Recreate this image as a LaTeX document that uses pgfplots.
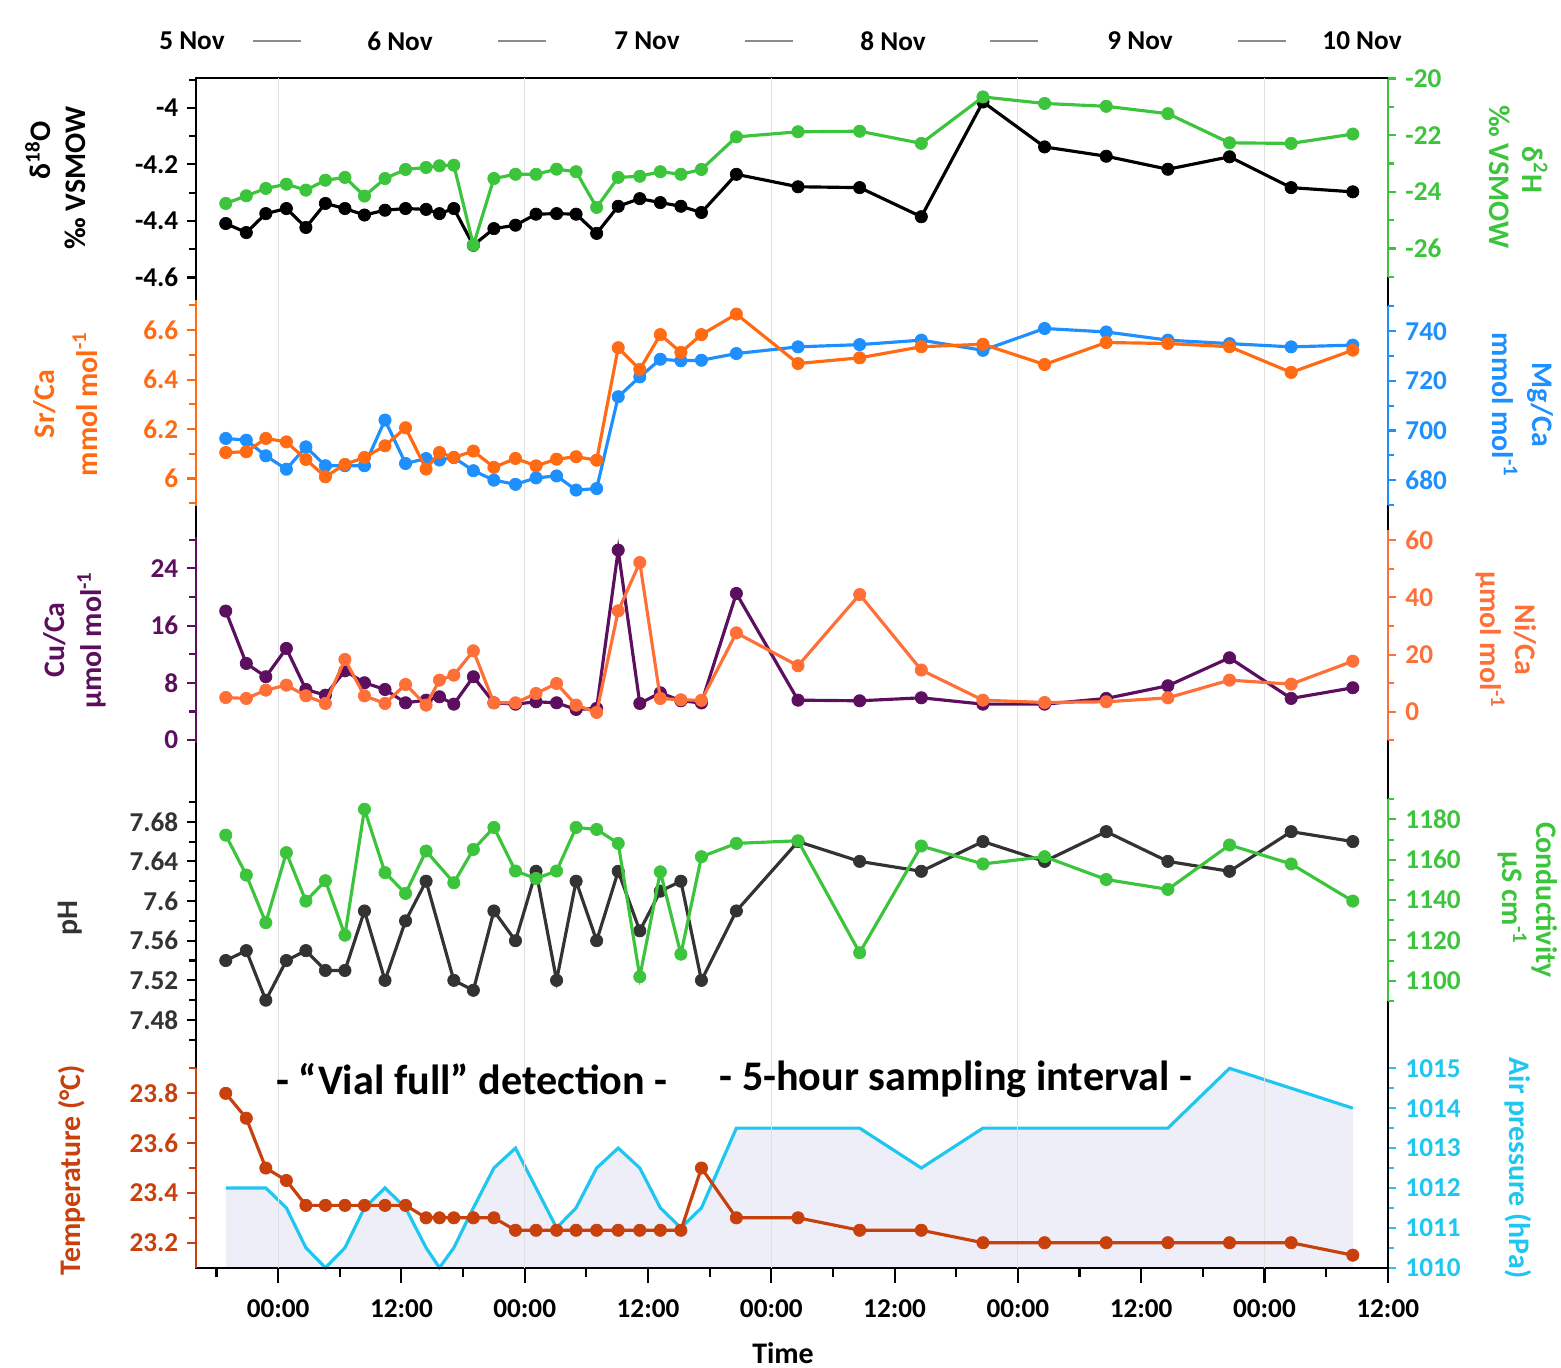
\documentclass[border=0pt]{standalone}
\usepackage{fontspec}
\setmainfont{Carlito}
\usepackage{pgfplots}
\usepackage{pgfplotstable}
\pgfplotsset{compat=1.18}
\usepgfplotslibrary{fillbetween}

\definecolor{dO}{HTML}{000000}
\definecolor{dH}{HTML}{3DC43D}
\definecolor{srca}{HTML}{FF6A13}
\definecolor{mgca}{HTML}{1E8FFF}
\definecolor{cuca}{HTML}{5C0F5E}
\definecolor{nica}{HTML}{FF7038}
\definecolor{phc}{HTML}{333333}
\definecolor{cond}{HTML}{3DC43D}
\definecolor{temp}{HTML}{C8400C}
\definecolor{pres}{HTML}{1EC6F0}
\definecolor{presfill}{HTML}{EEEEF8}

\newcommand\tickfont{\fontsize{15.5}{16}\selectfont\bfseries}
\newcommand\labfont{\fontsize{17}{18}\selectfont\bfseries}

% hours from the first 00:00 tick
\pgfplotstableread{
x     d18O    d2H     srca   mgca   cuca   nica   ph    cond    temp   pres
-5.1  -4.409  -24.41  6.105  696.8  18.04  5.00   7.54  1172.2  23.80  1012.0
-3.1  -4.441  -24.14  6.108  696.1  10.72  4.66   7.55  1152.4  23.70  1012.0
-1.2  -4.374  -23.88  6.162  689.8  8.86   7.57   7.50  1128.8  23.50  1012.0
0.8   -4.356  -23.73  6.148  684.4  12.82  9.32   7.54  1163.5  23.45  1011.5
2.7   -4.423  -23.94  6.077  693.4  7.08   5.59   7.55  1139.5  23.35  1010.5
4.6   -4.338  -23.59  6.007  685.8  6.29   2.91   7.53  1149.6  23.35  1010.0
6.5   -4.356  -23.49  6.057  685.8  9.69   18.29  7.53  1122.6  23.35  1010.5
8.4   -4.379  -24.15  6.085  685.8  8.02   5.59   7.59  1185.0  23.35  1011.5
10.4  -4.362  -23.53  6.132  704.2  7.08   2.91   7.52  1153.6  23.35  1012.0
12.4  -4.356  -23.21  6.205  686.7  5.22   9.55   7.58  1143.3  23.35  1011.5
14.4  -4.359  -23.14  6.038  688.7  5.59   2.33   7.62  1164.3  23.30  1010.5
15.7  -4.374  -23.08  6.105  688.1  6.06   11.07  nan   nan     23.30  1010.0
17.1  -4.356  -23.06  6.085  689.1  5.03   12.81  7.52  1148.6  23.30  1010.5
19.0  -4.486  -25.88  6.111  683.8  8.86   21.32  7.51  1165.1  23.30  1011.5
21.0  -4.427  -23.53  6.045  680.0  5.22   3.14   7.59  1176.0  23.30  1012.5
23.1  -4.415  -23.38  6.081  678.3  5.03   3.14   7.56  1154.4  23.25  1013.0
25.1  -4.376  -23.38  6.051  680.9  5.36   6.41   7.63  1150.7  23.25  1012.0
27.1  -4.374  -23.20  6.078  681.7  5.22   9.90   7.52  1154.4  23.25  1011.0
29.0  -4.376  -23.29  6.088  676.0  4.29   2.33   7.62  1176.0  23.25  1011.5
31.0  -4.444  -24.55  6.074  676.6  4.43   -0.2   7.56  1175.0  23.25  1012.5
33.1  -4.348  -23.49  6.529  713.6  26.56  35.3   7.63  1168.1  23.25  1013.0
35.2  -4.321  -23.45  6.441  721.6  5.13   52.2   7.57  1102.0  23.25  1012.5
37.2  -4.335  -23.29  6.582  728.7  6.62   4.66   7.61  1154.0  23.25  1011.5
39.2  -4.348  -23.38  6.510  728.1  5.50   4.2    7.62  1113.2  23.25  1011.0
41.2  -4.370  -23.21  6.582  728.3  5.20   4.0    7.52  1161.5  23.50  1011.5
44.6  -4.235  -22.06  6.665  731.0  20.5   27.6   7.59  1168.1  23.30  1013.5
50.6  -4.279  -21.88  6.465  733.7  5.59   16.1   7.66  1169.4  23.30  1013.5
56.6  -4.282  -21.86  6.488  734.6  5.50   41.0   7.64  1113.9  23.25  1013.5
62.6  -4.385  -22.29  6.533  736.4  5.92   14.6   7.63  1166.8  23.25  1012.5
68.6  -3.979  -20.65  6.543  732.3  5.03   4.07   7.66  1157.9  23.20  1013.5
74.6  -4.138  -20.88  6.461  741.1  5.03   3.26   7.64  1161.5  23.20  1013.5
80.6  -4.171  -20.98  6.550  739.7  5.83   3.49   7.67  1150.2  23.20  1013.5
86.6  -4.217  -21.24  6.546  736.4  7.60   4.89   7.64  1145.3  23.20  1013.5
92.6  -4.173  -22.27  6.533  735.0  11.51  11.07  7.63  1167.3  23.20  1015.0
98.6  -4.282  -22.29  6.429  733.7  5.83   9.67   7.67  1157.9  23.20  1014.5
104.6 -4.297  -21.96  6.519  734.4  7.32   17.7   7.66  1139.5  23.15  1014.0
}\data

\pgfplotsset{
  panel/.style={scale only axis, width=23.84cm, xmin=-8, xmax=108,
    axis x line=none, clip=false, anchor=south west,
    /pgf/number format/assume math mode=true,
    /pgf/number format/1000 sep={},
    ticklabel style={font=\tickfont},
    tick align=outside, major tick length=0.17cm, minor tick length=0.13cm},
  L/.style={panel, axis y line*=left,
    y axis line style={-, draw=#1, line width=1.3pt},
    ytick style={draw=#1, line width=1.2pt},
    yticklabel style={text=#1, xshift=-0.06cm}},
  R/.style={panel, axis y line*=right,
    y axis line style={-, draw=#1, line width=1.3pt},
    ytick style={draw=#1, line width=1.2pt},
    yticklabel style={text=#1, xshift=0.06cm}},
  ser/.style={draw=#1, line width=1.8pt, mark=*, mark size=3.5pt,
    mark options={fill=#1, draw=#1, line width=0.4pt}},
}

\begin{document}
\begin{tikzpicture}[x=0.02cm,y=0.02cm]

% air pressure (area behind everything)
\begin{axis}[R=pres, at={(3.92cm,2.006cm)}, height=4.268cm,
  ymin=1010, ymax=1015.35, ytick={1010,1011,...,1015},
  minor ytick={1010.5,1011.5,1012.5,1013.5,1014.5}]
  \addplot[draw=none, name path=p] table[x=x, y=pres]{\data};
  \addplot[draw=none, name path=b] coordinates {(-5.1,1010) (104.6,1010)};
  \addplot[presfill] fill between[of=p and b];
  \addplot[pres, line width=1.8pt] table[x=x, y=pres]{\data};
\end{axis}

% outer frame, time axis and day grid
\begin{axis}[scale only axis, width=23.84cm, height=23.8cm,
  at={(3.92cm,2cm)}, anchor=south west,
  xmin=-8, xmax=108, ymin=0, ymax=1, ytick=\empty,
  xtick={0,12,...,108},
  xticklabels={00:00,12:00,00:00,12:00,00:00,12:00,00:00,12:00,00:00,12:00},
  minor xtick={-6,6,...,102}, xtick pos=bottom,
  tick align=outside, major tick length=0.3cm, minor tick length=0.18cm,
  xtick style={black, line width=1.2pt},
  axis line style={line width=1.3pt},
  xticklabel style={font=\tickfont, yshift=-0.2cm},
  extra x ticks={0,24,48,72,96}, extra x tick labels={},
  extra x tick style={major tick length=0pt, grid=major,
    major grid style={black!12, line width=0.6pt}}]
  \addplot[draw=none] coordinates {(-8,0) (108,1)};
\end{axis}

% panel 1: stable isotopes
\begin{axis}[L=dO, at={(3.92cm,21.814cm)}, height=3.958cm,
  ymin=-4.6, ymax=-3.9, ytick={-4.6,-4.4,-4.2,-4},
  minor ytick={-4.5,-4.3,-4.1,-3.9}]
  \addplot[ser=dO] table[x=x, y=d18O]{\data};
\end{axis}
\begin{axis}[R=dH, at={(3.92cm,21.828cm)}, height=3.966cm,
  ymin=-27, ymax=-20, ytick={-26,-24,-22,-20},
  minor ytick={-27,-25,-23,-21}]
  \addplot[ser=dH] table[x=x, y=d2H]{\data};
\end{axis}

% panel 2: Sr/Ca and Mg/Ca
\begin{axis}[R=mgca, at={(3.92cm,17.264cm)}, height=3.972cm,
  ymin=670, ymax=750, ytick={680,700,720,740},
  minor ytick={670,690,710,730,750}]
  \addplot[ser=mgca] table[x=x, y=mgca]{\data};
\end{axis}
\begin{axis}[L=srca, at={(3.92cm,17.25cm)}, height=4.104cm,
  ymin=5.89, ymax=6.72, ytick={6,6.2,6.4,6.6},
  minor ytick={5.9,6.1,6.3,6.5,6.7}]
  \addplot[ser=srca] table[x=x, y=srca]{\data};
\end{axis}

% panel 3: Cu/Ca and Ni/Ca
\begin{axis}[L=cuca, at={(3.92cm,12.502cm)}, height=4.122cm,
  ymin=-0.4, ymax=28.4, ytick={0,8,16,24},
  minor ytick={4,12,20,28}]
  \addplot[ser=cuca] table[x=x, y=cuca]{\data};
\end{axis}
\begin{axis}[R=nica, at={(3.92cm,12.554cm)}, height=4.206cm,
  ymin=-10, ymax=63.5, ytick={0,20,40,60},
  minor ytick={-10,10,30,50}]
  \addplot[ser=nica] table[x=x, y=nica]{\data};
\end{axis}

% panel 4: pH and conductivity
\begin{axis}[L=phc, at={(3.92cm,6.564cm)}, height=4.76cm,
  ymin=7.46, ymax=7.70, ytick={7.48,7.52,7.56,7.6,7.64,7.68},
  minor ytick={7.46,7.50,7.54,7.58,7.62,7.66,7.70},
  y axis line style={draw=black}, ytick style={draw=black}]
  \addplot[ser=phc] table[x=x, y=ph]{\data};
\end{axis}
\begin{axis}[R=cond, at={(3.92cm,7.342cm)}, height=4.036cm,
  ymin=1090, ymax=1190, ytick={1100,1120,...,1180},
  minor ytick={1090,1110,1130,1150,1170,1190}]
  \addplot[ser=cond] table[x=x, y=cond]{\data};
\end{axis}

% panel 5: temperature
\begin{axis}[L=temp, at={(3.92cm,2.008cm)}, height=3.984cm,
  ymin=23.1, ymax=23.9, ytick={23.2,23.4,23.6,23.8},
  minor ytick={23.3,23.5,23.7,23.9}]
  \addplot[ser=temp] table[x=x, y=temp]{\data};
\end{axis}

% axis titles
\node[rotate=90, font=\labfont, text=dO] at (38,1218) {δ\textsuperscript{18}O};
\node[rotate=90, font=\labfont, text=dO] at (75,1190) {‰ VSMOW};
\node[rotate=-90, font=\labfont, text=dH] at (1500,1191) {‰ VSMOW};
\node[rotate=-90, font=\labfont, text=dH] at (1535,1198) {δ\textsuperscript{2}H};
\node[rotate=90, font=\labfont, text=srca] at (45,964) {Sr/Ca};
\node[rotate=90, font=\labfont, text=srca] at (85,964) {mmol mol\textsuperscript{-1}};
\node[rotate=-90, font=\labfont, text=mgca] at (1540,963) {Mg/Ca};
\node[rotate=-90, font=\labfont, text=mgca] at (1505,963) {mmol mol\textsuperscript{-1}};
\node[rotate=90, font=\labfont, text=cuca] at (55,728) {Cu/Ca};
\node[rotate=90, font=\labfont, text=cuca] at (92,728) {µmol mol\textsuperscript{-1}};
\node[rotate=-90, font=\labfont, text=nica] at (1525,728) {Ni/Ca};
\node[rotate=-90, font=\labfont, text=nica] at (1490,728) {µmol mol\textsuperscript{-1}};
\node[rotate=90, font=\labfont, text=phc] at (70,450) {pH};
\node[rotate=-90, font=\labfont, text=cond] at (1545,468) {Conductivity};
\node[rotate=-90, font=\labfont, text=cond] at (1512,470) {µS cm\textsuperscript{-1}};
\node[rotate=90, font=\labfont, text=temp] at (72,198) {Temperature (°C)};
\node[rotate=-90, font=\labfont, text=pres] at (1518,200) {Air pressure (hPa)};

% annotations
\node[font=\fontsize{24}{26}\selectfont\bfseries] at (472,289) {- “Vial full” detection -};
\node[font=\fontsize{24}{26}\selectfont\bfseries] at (956,289) {- 5-hour sampling interval -};

% day labels along the top
\foreach \xx/\dd in {192/5 Nov, 400/6 Nov, 647/7 Nov, 893/8 Nov, 1140/9 Nov, 1362/10 Nov}
  \node[font=\tickfont] at (\xx,1327) {\dd};
\foreach \xa in {253,498,745,990,1238}
  \draw[black!45, line width=1.2pt] (\xa,1327) -- ++(48,0);

\node[font=\labfont, inner sep=1pt] at (783,15) {Time};

\pgfresetboundingbox
\useasboundingbox (0,0) rectangle (1561,1368);
\end{tikzpicture}
\end{document}
